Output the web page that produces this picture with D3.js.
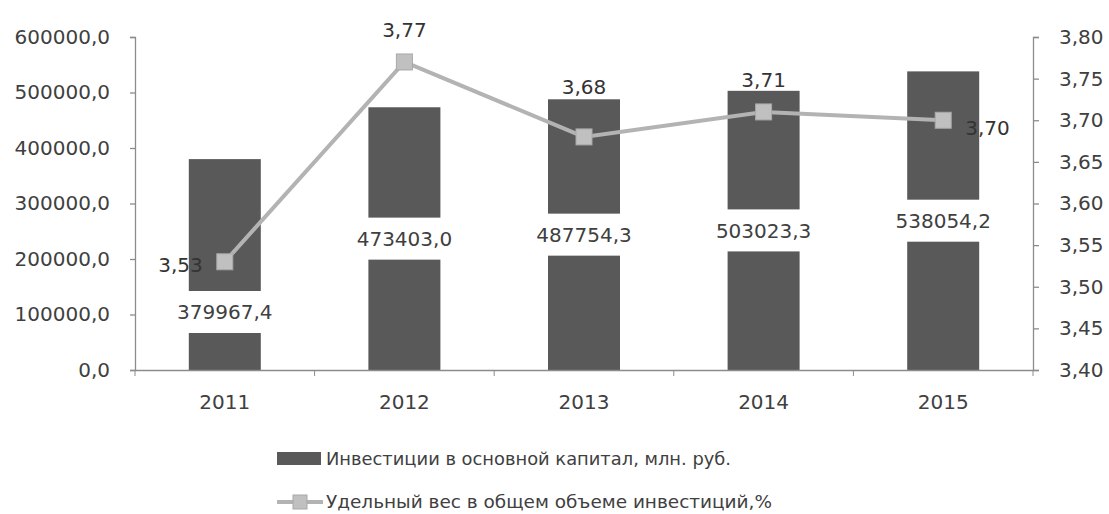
<!DOCTYPE html>
<html><head><meta charset="utf-8">
<script src="https://cdn.jsdelivr.net/npm/d3@7"></script>
<style>
body{margin:0;background:#fff;}
svg{display:block;font-family:"DejaVu Sans",sans-serif;}
</style></head>
<body><svg id="c" width="1109" height="514"></svg>
<script>
const years = ["2011","2012","2013","2014","2015"];
const investments = [379967.4, 473403.0, 487754.3, 503023.3, 538054.2];
const shares = [3.53, 3.77, 3.68, 3.71, 3.70];
const leftTicks = [0,100000,200000,300000,400000,500000,600000];
const rightTicks = [3.40,3.45,3.50,3.55,3.60,3.65,3.70,3.75,3.80];
const legendLabels = ["Инвестиции в основной капитал, млн. руб.", "Удельный вес в общем объеме инвестиций,%"];

const svg = d3.select("#c");
const L = 135, R = 1033, T = 37, B = 370;
const xb = d3.scaleBand().domain(years).range([L, R]);
const y = d3.scaleLinear().domain([0, 600000]).range([B, T]);
const y2 = d3.scaleLinear().domain([3.40, 3.80]).range([B, T]);
const fmtL = v => d3.format(".1f")(v).replace(".", ",");
const fmtR = v => d3.format(".2f")(v).replace(".", ",");
const txt = "#404040", axc = "#8c8c8c";

// bars
svg.append("g").selectAll("rect").data(investments).join("rect")
  .attr("x", (d,i) => xb(years[i]) + xb.bandwidth()/2 - 36)
  .attr("width", 72)
  .attr("y", d => y(d)).attr("height", d => B - y(d))
  .attr("fill", "#595959");

// axes
const gl = svg.append("g").attr("transform", `translate(${L},0)`)
  .call(d3.axisLeft(y).tickValues(leftTicks).tickFormat(fmtL).tickSize(5).tickPadding(20));
const gr = svg.append("g").attr("transform", `translate(${R},0)`)
  .call(d3.axisRight(y2).tickValues(rightTicks).tickFormat(fmtR).tickSize(6).tickPadding(20));
const gb = svg.append("g").attr("transform", `translate(0,${B})`)
  .call(d3.axisBottom(xb).tickSize(0).tickPadding(25));
// category boundary ticks
svg.append("g").selectAll("line").data(d3.range(years.length + 1)).join("line")
  .attr("x1", i => L + i * xb.step()).attr("x2", i => L + i * xb.step())
  .attr("y1", B).attr("y2", B + 6).attr("stroke", axc);
[gl, gr, gb].forEach(g => {
  g.selectAll("path,line").attr("stroke", axc).attr("stroke-width", 1.3);
  g.selectAll("text").attr("fill", txt).style("font-size", "20px").style("font-family", "DejaVu Sans");
});
gb.select(".domain").attr("d", `M${L},0.5H${R}`);

// bar labels with white background
const barLabelY = investments.map((d,i) => i === 0 ? 312 : (y(d) + B) / 2);
const bl = svg.append("g").selectAll("g").data(investments).join("g")
  .attr("transform", (d,i) => `translate(${xb(years[i]) + xb.bandwidth()/2},${barLabelY[i]})`);
bl.append("rect").attr("x", -56).attr("y", -21).attr("width", 112).attr("height", 42).attr("fill", "#fff");
bl.append("text").attr("text-anchor", "middle").attr("dy", "0.36em")
  .style("font-size", "20px").attr("fill", txt).text(d => fmtL(d));

// line
const cx = i => xb(years[i]) + xb.bandwidth()/2;
svg.append("path").datum(shares)
  .attr("d", d3.line().x((d,i) => cx(i)).y(d => y2(d)))
  .attr("fill", "none").attr("stroke", "#b3b3b3").attr("stroke-width", 4);
svg.append("g").selectAll("rect").data(shares).join("rect")
  .attr("x", (d,i) => cx(i) - 8).attr("y", d => y2(d) - 8)
  .attr("width", 16).attr("height", 16).attr("fill", "#c0c0c0").attr("stroke", "#a8a8a8");

// line labels
const place = ["left","above","above2","above","right"];
svg.append("g").selectAll("text").data(shares).join("text")
  .attr("x", (d,i) => place[i] === "left" ? cx(i) - 22 : place[i] === "right" ? cx(i) + 22 : cx(i))
  .attr("y", (d,i) => {
    const p = y2(d);
    return place[i] === "above" ? p - 32 : place[i] === "above2" ? p - 50 : place[i] === "left" ? p + 3 : p + 8;
  })
  .attr("dy", "0.36em")
  .attr("text-anchor", (d,i) => place[i] === "left" ? "end" : place[i] === "right" ? "start" : "middle")
  .style("font-size", "20px").attr("fill", "#333").text(d => fmtR(d));

// legend
const lg = svg.append("g");
lg.append("rect").attr("x", 277).attr("y", 452).attr("width", 44).attr("height", 13).attr("fill", "#595959");
lg.append("text").attr("x", 326).attr("y", 459).attr("dy", "0.36em").style("font-size", "18px")
  .attr("fill", txt).attr("textLength", 405).attr("lengthAdjust", "spacingAndGlyphs").text(legendLabels[0]);
lg.append("line").attr("x1", 277).attr("x2", 323).attr("y1", 502).attr("y2", 502)
  .attr("stroke", "#b3b3b3").attr("stroke-width", 4);
lg.append("rect").attr("x", 293).attr("y", 495).attr("width", 14).attr("height", 14).attr("fill", "#c0c0c0").attr("stroke", "#a8a8a8");
lg.append("text").attr("x", 326).attr("y", 502).attr("dy", "0.36em").style("font-size", "18px")
  .attr("fill", txt).attr("textLength", 446).attr("lengthAdjust", "spacingAndGlyphs").text(legendLabels[1]);
</script></body></html>
